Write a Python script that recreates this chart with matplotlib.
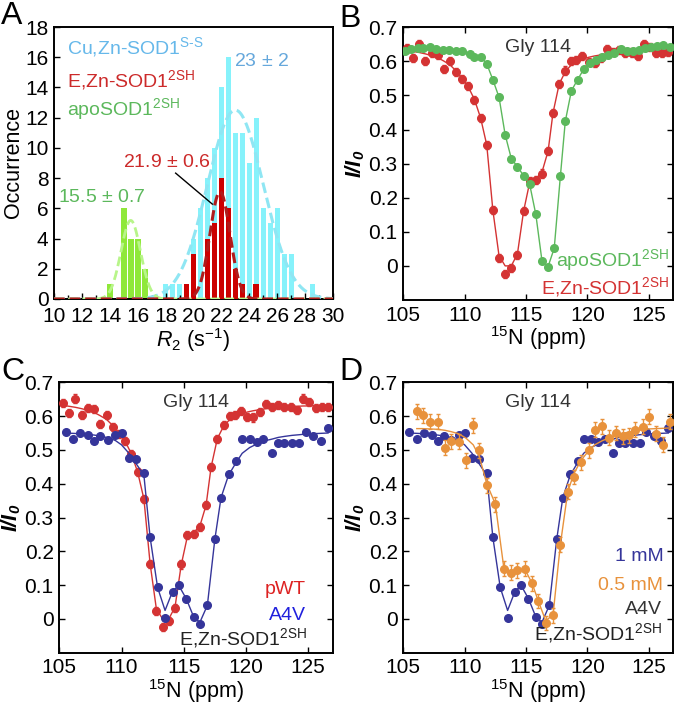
import numpy as np
import matplotlib
matplotlib.use("Agg")
import matplotlib.pyplot as plt

plt.rcParams['font.family'] = ['Liberation Sans', 'DejaVu Sans']
plt.rcParams['mathtext.fontset'] = 'custom'
plt.rcParams['mathtext.rm'] = 'Liberation Sans'
plt.rcParams['mathtext.it'] = 'Liberation Sans:italic'
plt.rcParams['mathtext.bf'] = 'Liberation Sans:bold:italic'

# ---- panel A: R2 histograms ----
cu_bins = [18.0, 18.5, 19.0, 19.5, 20.0, 20.5, 21.0, 21.5, 22.0, 22.5, 23.0, 23.5,
           24.0, 24.5, 25.0, 25.5, 26.0, 26.5, 27.0, 28.5]
cu_counts = [1, 1, 1, 1, 4, 6, 8, 10, 14, 16, 11, 11, 9, 12, 6, 5, 6, 3, 3, 1]
ezn_bins = [19.5, 20.0, 21.0, 21.5, 22.0, 22.5, 23.0, 23.5, 24.5]
ezn_counts = [1, 3, 4, 5, 8, 6, 2, 1, 1]
apo_bins = [14.0, 15.0, 15.5, 16.0, 16.5]
apo_counts = [1, 6, 4, 4, 2]
# gaussian fits: mean, sd, peak height
cu_fit = (23.0, 2.0, 12.5)
ezn_fit = (21.9, 0.72, 7.1)
apo_fit = (15.5, 0.7, 5.2)

# ---- panels B-D: Gly 114 CEST profiles ----
ezn_x = [105.3, 105.8, 106.3, 106.8, 107.3, 107.8, 108.3, 108.8, 109.3, 109.8,
         110.3, 110.8, 111.3, 111.8, 112.3, 112.8, 113.3, 113.8, 114.3, 114.8,
         115.3, 115.8, 116.3, 116.8, 117.2, 117.7, 118.2, 118.7, 119.1, 119.6,
         120.1, 120.6, 121.1, 121.6, 122.1, 122.6, 123.1, 123.6, 124.1, 124.6,
         125.1, 125.6, 126.1, 126.6]
ezn_y = [0.638, 0.609, 0.652, 0.602, 0.624, 0.620, 0.577, 0.602, 0.568, 0.548,
         0.527, 0.487, 0.434, 0.355, 0.163, 0.024, -0.023, -0.005, 0.031, 0.161,
         0.249, 0.252, 0.271, 0.337, 0.449, 0.533, 0.573, 0.600, 0.604, 0.616,
         0.598, 0.596, 0.611, 0.636, 0.628, 0.633, 0.626, 0.626, 0.617, 0.652,
         0.642, 0.624, 0.626, 0.627]
ezn_fitline = [0.632, 0.629, 0.626, 0.622, 0.617, 0.611, 0.601, 0.590, 0.572, 0.550,
               0.525, 0.488, 0.434, 0.355, 0.163, 0.030, 0.000, 0.000, 0.035, 0.160,
               0.245, 0.255, 0.275, 0.337, 0.449, 0.533, 0.570, 0.590, 0.600, 0.607,
               0.612, 0.616, 0.619, 0.622, 0.624, 0.626, 0.627, 0.628, 0.629, 0.630,
               0.630, 0.631, 0.631, 0.631]
ezn_err = 0.012

apo_x = [105.1, 105.6, 106.2, 106.6, 107.2, 107.7, 108.2, 108.7, 109.3, 109.8,
         110.4, 110.8, 111.3, 111.8, 112.3, 112.8, 113.3, 113.8, 114.3, 114.8,
         115.3, 115.8, 116.3, 116.8, 117.3, 117.8, 118.2, 118.7, 119.2, 119.7,
         120.2, 120.7, 121.2, 121.7, 122.2, 122.7, 123.2, 123.7, 124.2, 124.7,
         125.2, 125.7, 126.2, 126.7]
apo_y = [0.629, 0.636, 0.639, 0.639, 0.643, 0.636, 0.634, 0.634, 0.629, 0.629,
         0.622, 0.612, 0.614, 0.593, 0.546, 0.495, 0.385, 0.315, 0.291, 0.265,
         0.239, 0.151, 0.015, -0.002, 0.052, 0.263, 0.424, 0.514, 0.546, 0.577,
         0.595, 0.603, 0.612, 0.620, 0.625, 0.636, 0.631, 0.630, 0.633, 0.640,
         0.641, 0.645, 0.648, 0.641]

a4v_x = [105.5, 106.1, 106.7, 107.3, 107.8, 108.3, 108.9, 109.5, 110.0, 110.6,
         111.2, 111.8, 112.3, 112.9, 113.5, 114.1, 114.6, 115.2, 115.8, 116.3,
         116.9, 117.5, 118.0, 118.6, 119.2, 119.7, 120.3, 120.9, 121.4, 122.1,
         122.6, 123.1, 123.7, 124.3, 124.8, 125.4, 126.0, 126.6]
a4v_y = [0.554, 0.531, 0.551, 0.544, 0.527, 0.541, 0.529, 0.544, 0.549, 0.475,
         0.472, 0.432, 0.241, 0.093, 0.004, 0.081, 0.099, 0.060, 0.006, -0.014,
         0.040, 0.235, 0.359, 0.430, 0.467, 0.531, 0.531, 0.524, 0.531, 0.490,
         0.519, 0.519, 0.519, 0.519, 0.554, 0.541, 0.527, 0.564]
a4v_fitline = [0.550, 0.549, 0.548, 0.546, 0.544, 0.541, 0.536, 0.528, 0.515, 0.490,
               0.458, 0.425, 0.241, 0.093, 0.025, 0.081, 0.099, 0.060, 0.006, -0.010,
               0.040, 0.235, 0.359, 0.425, 0.462, 0.490, 0.507, 0.518, 0.526, 0.532,
               0.537, 0.540, 0.543, 0.545, 0.547, 0.548, 0.549, 0.550]

half_x = [106.1, 106.6, 107.2, 107.8, 108.4, 108.9, 109.5, 110.1, 110.7, 111.2,
          111.8, 112.5, 113.2, 113.8, 114.3, 114.9, 115.5, 116.0, 116.6, 117.2,
          117.8, 118.4, 118.9, 119.5, 120.1, 120.6, 121.2, 121.8, 122.3, 122.9,
          123.4, 123.9, 124.5, 125.0, 125.6, 126.2, 126.7]
half_y = [0.614, 0.603, 0.583, 0.583, 0.506, 0.526, 0.524, 0.469, 0.573, 0.499,
          0.395, 0.339, 0.149, 0.136, 0.144, 0.149, 0.105, 0.053, -0.012, 0.011,
          0.220, 0.376, 0.420, 0.464, 0.499, 0.560, 0.570, 0.536, 0.550, 0.540,
          0.543, 0.560, 0.568, 0.598, 0.548, 0.516, 0.583]
half_fitline = [0.563, 0.563, 0.562, 0.561, 0.558, 0.554, 0.548, 0.535, 0.515, 0.480,
                0.400, 0.340, 0.149, 0.140, 0.144, 0.147, 0.105, 0.053, -0.005, 0.011,
                0.220, 0.376, 0.430, 0.470, 0.497, 0.515, 0.527, 0.536, 0.543, 0.549,
                0.553, 0.557, 0.560, 0.562, 0.563, 0.564, 0.565]
half_err = 0.022

RED = '#d43333'
GREEN = '#5cb85c'
BLUE = '#35359a'
ORANGE = '#e8923c'

fig = plt.figure(figsize=(6.77, 7.05), dpi=100)
axA = fig.add_axes([0.0798, 0.5759, 0.412, 0.3858])
axB = fig.add_axes([0.5957, 0.5745, 0.3988, 0.3868])
axC = fig.add_axes([0.0876, 0.0742, 0.4043, 0.3835])
axD = fig.add_axes([0.5957, 0.0742, 0.3988, 0.3835])

tick_fs = 15
lab_fs = 15.5
txt_fs = 14
for ax in (axA, axB, axC, axD):
    for s in ax.spines.values():
        s.set_linewidth(1.4)
    ax.tick_params(direction='in', labelsize=tick_fs, width=1, length=4, pad=4)

# panel A
ax = axA
ax.bar(cu_bins, cu_counts, width=0.36, color='#86f2fb', zorder=1)
ax.bar(apo_bins, apo_counts, width=0.42, color='#8fe83a', zorder=2)
ax.bar(ezn_bins, ezn_counts, width=0.4, color='#cc0000', zorder=3)
xg = np.linspace(10, 30, 500)
for (m, sd, h), c, lw, z in [(cu_fit, '#8fe6f3', 2.2, 4), (apo_fit, '#b8f58a', 2.0, 4),
                             (ezn_fit, '#b01c1c', 2.2, 5)]:
    ax.plot(xg, h * np.exp(-(xg - m) ** 2 / (2 * sd ** 2)), '--', color=c, lw=lw,
            dashes=(3.5, 1.6), zorder=z)
ax.set_xlim(10, 30)
ax.set_ylim(0, 18)
ax.set_xticks(np.arange(10, 31, 2))
ax.set_xticks(np.arange(10, 31, 1), minor=True)
ax.set_yticks(np.arange(0, 19, 2))
ax.tick_params(which='minor', direction='in', length=3, width=1)
ax.tick_params(axis='x', pad=6)
ax.set_ylabel('Occurrence', fontsize=lab_fs, labelpad=1)
ax.set_xlabel('$\\mathit{R}_{\\mathit{2}}$ (s$^{-1}$)', fontsize=lab_fs, labelpad=0)
ax.text(10.9, 16.7, 'Cu,Zn-SOD1$^{\\mathrm{S\u2010S}}$', color='#66b8ea', fontsize=txt_fs,
        va='center')
ax.text(10.9, 14.5, 'E,Zn-SOD1$^{\\mathrm{2SH}}$', color='#cc2a2a', fontsize=txt_fs,
        va='center')
ax.text(10.9, 12.6, 'apoSOD1$^{\\mathrm{2SH}}$', color='#5cb85c', fontsize=txt_fs,
        va='center')
ax.text(24.9, 15.7, '23 $\\pm$ 2', color='#66a8dc', fontsize=txt_fs, ha='center', va='center')
ax.text(18.1, 9.0, '21.9 $\\pm$ 0.6', color='#cc2a2a', fontsize=txt_fs, ha='center',
        va='center')
ax.text(13.4, 6.7, '15.5 $\\pm$ 0.7', color='#5cb85c', fontsize=txt_fs, ha='center',
        va='center')
ax.plot([18.72, 21.35], [8.33, 6.28], color='black', lw=1, zorder=6)

# panels B-D common
def style_cest(ax):
    ax.set_xlim(105, 127)
    ax.set_ylim(-0.1, 0.7)
    ax.set_xticks([105, 110, 115, 120, 125])
    ax.set_yticks([0, 0.1, 0.2, 0.3, 0.4, 0.5, 0.6, 0.7])
    ax.set_yticklabels(['0', '0.1', '0.2', '0.3', '0.4', '0.5', '0.6', '0.7'])
    ax.tick_params(top=True, right=True)
    ax.set_xlabel('$^{15}$N (ppm)', fontsize=lab_fs, labelpad=0)
    ax.set_ylabel('$\\mathbf{I/I_0}$', fontsize=lab_fs, labelpad=1)
    ax.text(0.5, 0.925, 'Gly 114', transform=ax.transAxes, ha='center', va='center',
            fontsize=txt_fs, color='#333333')

ms = 5.5
# panel B
ax = axB
ax.plot(ezn_x, ezn_fitline, color=RED, lw=1, zorder=2)
ax.errorbar(ezn_x, ezn_y, yerr=ezn_err, fmt='o', color=RED, ms=ms, capsize=1.5,
            elinewidth=1, zorder=3)
ax.plot(apo_x, apo_y, '-o', color=GREEN, lw=1, ms=ms, zorder=4)
style_cest(ax)
ax.text(0.985, 0.147, 'apoSOD1$^{\\mathrm{2SH}}$', transform=ax.transAxes, ha='right',
        va='center', color=GREEN, fontsize=txt_fs)
ax.text(0.985, 0.049, 'E,Zn-SOD1$^{\\mathrm{2SH}}$', transform=ax.transAxes, ha='right',
        va='center', color=RED, fontsize=txt_fs)

# panel C
ax = axC
ax.plot(ezn_x, ezn_fitline, color=RED, lw=1, zorder=2)
ax.errorbar(ezn_x, ezn_y, yerr=ezn_err, fmt='o', color=RED, ms=ms, capsize=1.5,
            elinewidth=1, zorder=3)
ax.plot(a4v_x, a4v_fitline, color=BLUE, lw=1, zorder=4)
ax.plot(a4v_x, a4v_y, 'o', color=BLUE, ms=ms, zorder=5)
style_cest(ax)
ax.text(0.9, 0.232, 'pWT', transform=ax.transAxes, ha='right', va='center',
        color='#dd2222', fontsize=txt_fs)
ax.text(0.9, 0.139, 'A4V', transform=ax.transAxes, ha='right', va='center',
        color='#2020dd', fontsize=txt_fs)
ax.text(0.905, 0.053, 'E,Zn-SOD1$^{\\mathrm{2SH}}$', transform=ax.transAxes, ha='right',
        va='center', color='#222222', fontsize=txt_fs)

# panel D
ax = axD
ax.plot(a4v_x, a4v_fitline, color=BLUE, lw=1, zorder=2)
ax.plot(a4v_x, a4v_y, 'o', color=BLUE, ms=ms, zorder=3)
ax.plot(half_x, half_fitline, color=ORANGE, lw=1, zorder=4)
ax.errorbar(half_x, half_y, yerr=half_err, fmt='o', color=ORANGE, ms=ms, capsize=1.5,
            elinewidth=1, zorder=5)
style_cest(ax)
ax.text(0.963, 0.355, '1 mM', transform=ax.transAxes, ha='right', va='center',
        color=BLUE, fontsize=txt_fs)
ax.text(0.963, 0.25, '0.5 mM', transform=ax.transAxes, ha='right', va='center',
        color=ORANGE, fontsize=txt_fs)
ax.text(0.958, 0.158, 'A4V', transform=ax.transAxes, ha='right', va='center',
        color='#333333', fontsize=txt_fs)
ax.text(0.958, 0.072, 'E,Zn-SOD1$^{\\mathrm{2SH}}$', transform=ax.transAxes, ha='right',
        va='center', color='#222222', fontsize=txt_fs)

# panel letters
fig.text(0.002, 0.999, 'A', fontsize=23, va='top', ha='left')
fig.text(0.502, 0.994, 'B', fontsize=23, va='top', ha='left')
fig.text(0.002, 0.494, 'C', fontsize=23, va='top', ha='left')
fig.text(0.502, 0.494, 'D', fontsize=23, va='top', ha='left')

fig.savefig('out.png', dpi=100)
